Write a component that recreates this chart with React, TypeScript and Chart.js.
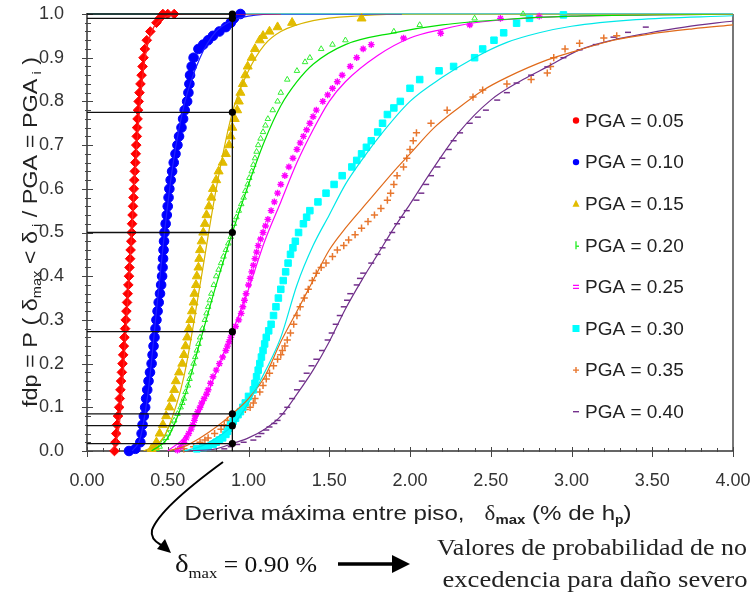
import React, { useEffect, useRef } from "react";
import { Chart, registerables } from "chart.js";

Chart.register(...registerables);

type P = [number, number];

// ---------- data ----------
const legendLabels = ["PGA = 0.05", "PGA = 0.10", "PGA = 0.15", "PGA = 0.20", "PGA = 0.25", "PGA = 0.30", "PGA = 0.35", "PGA = 0.40"];

const pga005: P[] = [
  [0.170, 0.0], [0.176, 0.02], [0.181, 0.04], [0.186, 0.06], [0.192, 0.08], [0.199, 0.10], [0.203, 0.12], [0.207, 0.14],
  [0.211, 0.16], [0.216, 0.18], [0.220, 0.20], [0.224, 0.22], [0.228, 0.24], [0.232, 0.26], [0.236, 0.28], [0.240, 0.30],
  [0.244, 0.32], [0.248, 0.34], [0.252, 0.36], [0.256, 0.38], [0.260, 0.40], [0.263, 0.42], [0.267, 0.44], [0.270, 0.46],
  [0.274, 0.48], [0.277, 0.50], [0.279, 0.52], [0.282, 0.54], [0.285, 0.56], [0.288, 0.58], [0.290, 0.60], [0.293, 0.62],
  [0.296, 0.64], [0.299, 0.66], [0.302, 0.68], [0.305, 0.70], [0.308, 0.72], [0.310, 0.74], [0.313, 0.76], [0.316, 0.78],
  [0.320, 0.80], [0.325, 0.82], [0.331, 0.84], [0.338, 0.86], [0.344, 0.88], [0.350, 0.90], [0.358, 0.92], [0.370, 0.94],
  [0.392, 0.96], [0.430, 0.98], [0.450, 0.99], [0.470, 1.0], [0.500, 1.0], [0.540, 1.0],
];
const pga010: P[] = [
  [0.26, 0.0], [0.30, 0.005], [0.330, 0.02], [0.338, 0.04], [0.344, 0.06], [0.352, 0.08], [0.360, 0.10], [0.366, 0.12],
  [0.373, 0.14], [0.381, 0.16], [0.390, 0.18], [0.400, 0.20], [0.406, 0.22], [0.412, 0.24], [0.418, 0.26], [0.424, 0.28],
  [0.430, 0.30], [0.437, 0.32], [0.444, 0.34], [0.452, 0.36], [0.459, 0.38], [0.465, 0.40], [0.468, 0.42], [0.471, 0.44],
  [0.474, 0.46], [0.477, 0.48], [0.480, 0.50], [0.487, 0.52], [0.494, 0.54], [0.500, 0.56], [0.505, 0.58], [0.510, 0.60],
  [0.518, 0.62], [0.527, 0.64], [0.537, 0.66], [0.548, 0.68], [0.560, 0.70], [0.570, 0.72], [0.585, 0.74], [0.595, 0.76],
  [0.605, 0.78], [0.620, 0.80], [0.628, 0.82], [0.634, 0.84], [0.638, 0.86], [0.648, 0.88], [0.660, 0.90], [0.690, 0.92],
  [0.720, 0.93], [0.750, 0.94], [0.780, 0.95], [0.820, 0.96], [0.860, 0.97], [0.890, 0.98], [0.910, 0.99], [0.950, 1.0],
];
const pga015: P[] = [
  [0.40, 0.005], [0.42, 0.01], [0.43, 0.02], [0.45, 0.04], [0.47, 0.06], [0.49, 0.08], [0.51, 0.10], [0.525, 0.12],
  [0.54, 0.14], [0.55, 0.16], [0.57, 0.18], [0.59, 0.20], [0.60, 0.22], [0.61, 0.24], [0.62, 0.26], [0.63, 0.28],
  [0.64, 0.30], [0.65, 0.32], [0.66, 0.34], [0.665, 0.36], [0.675, 0.38], [0.68, 0.40], [0.69, 0.42], [0.695, 0.44],
  [0.70, 0.46], [0.71, 0.48], [0.72, 0.50], [0.73, 0.52], [0.74, 0.54], [0.755, 0.56], [0.77, 0.58], [0.78, 0.60],
  [0.80, 0.62], [0.815, 0.64], [0.84, 0.66], [0.86, 0.68], [0.88, 0.70], [0.89, 0.72], [0.90, 0.74], [0.915, 0.76],
  [0.93, 0.78], [0.94, 0.80], [0.95, 0.82], [0.965, 0.84], [0.98, 0.86], [0.995, 0.88], [1.02, 0.90], [1.04, 0.92],
  [1.07, 0.94], [1.09, 0.95], [1.13, 0.96], [1.18, 0.97], [1.27, 0.98], [1.70, 0.99],
];
const pga020: P[] = [
  [0.43, 0.005], [0.45, 0.01], [0.47, 0.02], [0.49, 0.03], [0.50, 0.04], [0.51, 0.05], [0.525, 0.06], [0.54, 0.07],
  [0.56, 0.085], [0.58, 0.10], [0.59, 0.11], [0.60, 0.12], [0.61, 0.135], [0.625, 0.15], [0.635, 0.165], [0.645, 0.18],
  [0.66, 0.20], [0.67, 0.215], [0.68, 0.23], [0.69, 0.245], [0.70, 0.26], [0.715, 0.28], [0.73, 0.30], [0.74, 0.315],
  [0.75, 0.33], [0.76, 0.345], [0.77, 0.36], [0.785, 0.38], [0.80, 0.40], [0.815, 0.415], [0.83, 0.43], [0.845, 0.445],
  [0.86, 0.46], [0.875, 0.475], [0.89, 0.49], [0.90, 0.505], [0.91, 0.52], [0.925, 0.535], [0.94, 0.55], [0.955, 0.565],
  [0.97, 0.58], [0.98, 0.595], [0.995, 0.61], [1.005, 0.625], [1.02, 0.64], [1.03, 0.655], [1.04, 0.67], [1.05, 0.685],
  [1.06, 0.70], [1.075, 0.715], [1.09, 0.73], [1.105, 0.745], [1.12, 0.76], [1.15, 0.78], [1.18, 0.80], [1.20, 0.82],
  [1.24, 0.85], [1.30, 0.87], [1.35, 0.89], [1.38, 0.90], [1.45, 0.92], [1.52, 0.93], [1.60, 0.94], [1.90, 0.96],
  [2.06, 0.975], [2.40, 0.99], [2.70, 1.0],
];
const pga025: P[] = [
  [0.56, 0.002], [0.58, 0.01], [0.60, 0.02], [0.615, 0.03], [0.63, 0.04], [0.645, 0.05], [0.655, 0.06], [0.665, 0.07],
  [0.67, 0.08], [0.685, 0.09], [0.70, 0.10], [0.71, 0.11], [0.725, 0.12], [0.74, 0.13], [0.75, 0.14], [0.765, 0.155],
  [0.78, 0.17], [0.80, 0.185], [0.82, 0.20], [0.84, 0.215], [0.86, 0.23], [0.87, 0.24], [0.88, 0.25], [0.89, 0.26],
  [0.90, 0.27], [0.92, 0.285], [0.94, 0.30], [0.955, 0.315], [0.965, 0.33], [0.975, 0.345], [0.985, 0.36], [1.00, 0.38],
  [1.01, 0.395], [1.02, 0.41], [1.03, 0.425], [1.04, 0.44], [1.05, 0.455], [1.06, 0.47], [1.075, 0.485], [1.09, 0.50],
  [1.105, 0.515], [1.12, 0.53], [1.14, 0.55], [1.16, 0.57], [1.18, 0.59], [1.20, 0.61], [1.225, 0.63], [1.25, 0.65],
  [1.275, 0.67], [1.30, 0.69], [1.32, 0.705], [1.34, 0.72], [1.36, 0.735], [1.38, 0.75], [1.40, 0.765], [1.42, 0.78],
  [1.46, 0.80], [1.49, 0.815], [1.52, 0.83], [1.55, 0.845], [1.58, 0.86], [1.63, 0.88], [1.67, 0.90], [1.71, 0.92],
  [1.76, 0.93], [1.96, 0.945], [2.19, 0.956], [2.37, 0.975], [2.56, 0.99], [2.80, 0.995],
];
const pga030: P[] = [
  [0.68, 0.005], [0.72, 0.008], [0.75, 0.01], [0.78, 0.015], [0.80, 0.02], [0.82, 0.025], [0.84, 0.03], [0.86, 0.038],
  [0.87, 0.045], [0.88, 0.052], [0.89, 0.06], [0.905, 0.068], [0.92, 0.075], [0.935, 0.083], [0.95, 0.09], [0.965, 0.10],
  [0.98, 0.11], [1.00, 0.125], [1.03, 0.14], [1.04, 0.155], [1.05, 0.17], [1.06, 0.185], [1.07, 0.20], [1.08, 0.215],
  [1.09, 0.23], [1.10, 0.245], [1.11, 0.26], [1.125, 0.275], [1.14, 0.29], [1.155, 0.31], [1.17, 0.33], [1.185, 0.35],
  [1.20, 0.37], [1.215, 0.39], [1.23, 0.41], [1.245, 0.43], [1.26, 0.45], [1.275, 0.465], [1.29, 0.48], [1.31, 0.50],
  [1.34, 0.52], [1.36, 0.535], [1.38, 0.55], [1.43, 0.57], [1.48, 0.59], [1.53, 0.61], [1.58, 0.63], [1.64, 0.65],
  [1.67, 0.665], [1.70, 0.68], [1.73, 0.695], [1.76, 0.71], [1.80, 0.73], [1.83, 0.75], [1.86, 0.77], [1.90, 0.785],
  [1.94, 0.80], [2.00, 0.83], [2.06, 0.85], [2.18, 0.87], [2.27, 0.88], [2.40, 0.90], [2.45, 0.92], [2.52, 0.94],
  [2.58, 0.957], [2.66, 0.979], [2.74, 0.99], [2.95, 0.998],
];
const pga035: P[] = [
  [0.60, 0.005], [0.66, 0.01], [0.70, 0.02], [0.73, 0.025], [0.75, 0.03], [0.79, 0.04], [0.83, 0.05], [0.85, 0.06],
  [0.87, 0.07], [0.90, 0.085], [0.95, 0.09], [0.98, 0.095], [1.01, 0.10], [1.03, 0.11], [1.04, 0.12], [1.07, 0.135],
  [1.09, 0.15], [1.11, 0.165], [1.13, 0.178], [1.155, 0.195], [1.18, 0.21], [1.20, 0.22], [1.21, 0.23], [1.225, 0.24],
  [1.24, 0.254], [1.26, 0.27], [1.28, 0.29], [1.30, 0.31], [1.32, 0.33], [1.345, 0.35], [1.37, 0.37], [1.395, 0.39],
  [1.42, 0.407], [1.45, 0.42], [1.48, 0.43], [1.52, 0.445], [1.55, 0.46], [1.59, 0.47], [1.62, 0.483], [1.66, 0.495],
  [1.70, 0.51], [1.74, 0.525], [1.78, 0.54], [1.82, 0.555], [1.86, 0.574], [1.88, 0.59], [1.90, 0.61], [1.92, 0.63],
  [1.96, 0.65], [1.98, 0.67], [2.00, 0.69], [2.02, 0.71], [2.04, 0.728], [2.13, 0.75], [2.23, 0.78], [2.39, 0.81],
  [2.45, 0.826], [2.60, 0.84], [2.75, 0.85], [2.85, 0.865], [2.87, 0.88], [2.89, 0.90], [2.96, 0.92], [3.05, 0.933],
  [3.20, 0.945], [3.28, 0.95],
];
const pga040: P[] = [
  [0.85, 0.005], [0.89, 0.01], [0.93, 0.015], [0.97, 0.02], [1.03, 0.025], [1.06, 0.033], [1.08, 0.04], [1.11, 0.048],
  [1.13, 0.055], [1.16, 0.063], [1.18, 0.07], [1.21, 0.085], [1.24, 0.10], [1.27, 0.12], [1.30, 0.14], [1.33, 0.16],
  [1.36, 0.178], [1.39, 0.195], [1.42, 0.21], [1.455, 0.23], [1.49, 0.254], [1.515, 0.27], [1.54, 0.29], [1.565, 0.31],
  [1.59, 0.33], [1.61, 0.345], [1.63, 0.36], [1.67, 0.38], [1.69, 0.395], [1.71, 0.407], [1.76, 0.43], [1.80, 0.45],
  [1.83, 0.465], [1.86, 0.483], [1.89, 0.50], [1.92, 0.52], [1.95, 0.535], [1.98, 0.55], [2.04, 0.574], [2.07, 0.59],
  [2.10, 0.61], [2.13, 0.63], [2.17, 0.65], [2.20, 0.67], [2.24, 0.69], [2.27, 0.71], [2.31, 0.728], [2.37, 0.75],
  [2.42, 0.764], [2.47, 0.78], [2.54, 0.803], [2.60, 0.82], [2.66, 0.842], [2.75, 0.86], [2.85, 0.879], [2.95, 0.90],
  [3.05, 0.918], [3.15, 0.93], [3.26, 0.947], [3.35, 0.958], [3.46, 0.97],
];

// fitted distribution curves
const fit005: P[] = [
  [0.15, 0.0], [0.18, 0.02], [0.20, 0.06], [0.22, 0.15], [0.25, 0.33], [0.28, 0.52], [0.30, 0.65], [0.33, 0.80],
  [0.36, 0.90], [0.40, 0.96], [0.45, 0.985], [0.50, 0.995], [0.60, 1.0], [1.20, 1.0],
];
const fit010: P[] = [
  [0.28, 0.0], [0.33, 0.03], [0.38, 0.14], [0.43, 0.32], [0.48, 0.50], [0.53, 0.65], [0.60, 0.79], [0.70, 0.90],
  [0.80, 0.96], [0.90, 0.985], [1.00, 0.995], [1.20, 1.0], [1.95, 1.0],
];
const fit015: P[] = [
  [0.35, 0.0], [0.45, 0.02], [0.50, 0.05], [0.60, 0.17], [0.70, 0.38], [0.80, 0.60], [0.90, 0.775], [1.00, 0.87],
  [1.10, 0.93], [1.20, 0.96], [1.40, 0.985], [1.70, 0.996], [2.00, 1.0], [4.00, 1.0],
];
const fit020: P[] = [
  [0.40, 0.0], [0.50, 0.03], [0.60, 0.12], [0.70, 0.25], [0.80, 0.38], [0.90, 0.50], [1.00, 0.61], [1.10, 0.71],
  [1.20, 0.79], [1.30, 0.845], [1.40, 0.885], [1.60, 0.93], [1.90, 0.957], [2.20, 0.975], [2.60, 0.988], [3.00, 0.995],
  [3.50, 0.998], [4.00, 1.0],
];
const fit025: P[] = [
  [0.50, 0.0], [0.60, 0.03], [0.70, 0.09], [0.80, 0.18], [0.90, 0.273], [1.00, 0.37], [1.10, 0.48], [1.20, 0.57],
  [1.30, 0.66], [1.40, 0.735], [1.50, 0.80], [1.60, 0.845], [1.80, 0.905], [2.00, 0.945], [2.20, 0.965], [2.40, 0.98],
  [2.70, 0.99], [3.00, 0.995], [3.50, 0.998], [4.00, 1.0],
];
const fit030: P[] = [
  [0.60, 0.0], [0.70, 0.01], [0.80, 0.03], [0.90, 0.058], [1.00, 0.11], [1.10, 0.18], [1.20, 0.26], [1.30, 0.38],
  [1.40, 0.47], [1.50, 0.54], [1.60, 0.61], [1.70, 0.665], [1.80, 0.715], [2.00, 0.80], [2.20, 0.855], [2.40, 0.90],
  [2.60, 0.935], [2.80, 0.957], [3.00, 0.972], [3.40, 0.987], [4.00, 0.996],
];
const fit035: P[] = [
  [0.50, 0.0], [0.60, 0.01], [0.70, 0.03], [0.80, 0.055], [0.90, 0.085], [1.00, 0.12], [1.10, 0.17], [1.20, 0.25],
  [1.30, 0.32], [1.40, 0.39], [1.50, 0.46], [1.60, 0.51], [1.75, 0.575], [1.90, 0.64], [2.00, 0.68], [2.15, 0.74],
  [2.30, 0.785], [2.45, 0.825], [2.60, 0.855], [2.85, 0.895], [3.05, 0.918], [3.26, 0.94], [3.50, 0.955], [3.75, 0.966],
  [4.00, 0.975],
];
const fit040: P[] = [
  [0.60, 0.0], [0.80, 0.005], [0.90, 0.017], [1.00, 0.03], [1.10, 0.05], [1.20, 0.08], [1.30, 0.13], [1.40, 0.185],
  [1.50, 0.25], [1.60, 0.325], [1.70, 0.39], [1.80, 0.45], [1.90, 0.51], [2.00, 0.565], [2.15, 0.65], [2.30, 0.728],
  [2.50, 0.803], [2.70, 0.85], [2.85, 0.879], [3.05, 0.918], [3.25, 0.94], [3.47, 0.956], [3.70, 0.97], [4.00, 0.984],
];

// reading at delta_max = 0.90 %
const refDrift = 0.9;
const refProbs = [1.0, 0.99, 0.775, 0.5, 0.273, 0.085, 0.058, 0.017];

const seriesPts = [pga005, pga010, pga015, pga020, pga025, pga030, pga035, pga040];
const seriesFits = [fit005, fit010, fit015, fit020, fit025, fit030, fit035, fit040];

// ---------- styles ----------
const markColors = ["#ff0000", "#0000ff", "#e2bc00", "#33ee33", "#ff00ff", "#00ffff", "#e8772e", "#74308c"];
const lineColors = ["#ff2020", "#2020ff", "#d8b400", "#00e000", "#ff00ff", "#00e8e8", "#e06a1a", "#70308a"];
const markStyles: any[] = ["rectRot", "circle", "triangle", "triangle", "star", "rect", "cross", "line"];
const markRadius = [4.8, 4.8, 5.2, 3.2, 3.4, 4.6, 3.6, 3];
const markBorder = [1, 1, 1, 1, 1.4, 1, 1.5, 1.5];
const markFilled = [true, true, true, false, false, true, false, false];

const SANS = "'Liberation Sans', Arial, sans-serif";
const SERIF = "'Liberation Serif', 'Times New Roman', serif";

type Seg = { t: string; font: string; dy?: number };

function drawFit(ctx: CanvasRenderingContext2D, segs: Seg[], cx: number, baseY: number, width: number) {
  let total = 0;
  for (const s of segs) {
    ctx.font = s.font;
    total += ctx.measureText(s.t).width;
  }
  const k = width / total;
  ctx.save();
  ctx.translate(cx, baseY);
  ctx.scale(k, 1);
  let x = -total / 2;
  ctx.textBaseline = "alphabetic";
  ctx.textAlign = "left";
  for (const s of segs) {
    ctx.font = s.font;
    ctx.fillText(s.t, x, s.dy || 0);
    x += ctx.measureText(s.t).width;
  }
  ctx.restore();
}

const decorPlugin = {
  id: "decor",
  beforeDatasetsDraw(chart: any) {
    const { ctx, chartArea: a, scales } = chart;
    const xs = scales.x;
    const ys = scales.y;
    ctx.save();
    ctx.strokeStyle = "#5cc8c0";
    ctx.lineWidth = 2;
    ctx.beginPath();
    ctx.moveTo(a.left, a.top);
    ctx.lineTo(a.right, a.top);
    ctx.stroke();
    ctx.strokeStyle = "#777";
    ctx.lineWidth = 2;
    ctx.beginPath();
    ctx.moveTo(a.right, a.top);
    ctx.lineTo(a.right, a.bottom);
    ctx.stroke();
    ctx.strokeStyle = "#333";
    ctx.lineWidth = 1.5;
    ctx.beginPath();
    ctx.moveTo(a.left, a.top - 1);
    ctx.lineTo(a.left, a.bottom);
    ctx.lineTo(a.right, a.bottom);
    ctx.stroke();
    ctx.lineWidth = 1;
    ctx.strokeStyle = "#444";
    for (let i = 0; i <= 50; i++) {
      const py = Math.round(ys.getPixelForValue(i / 50)) + 0.5;
      ctx.beginPath();
      if (i % 5 === 0) {
        ctx.moveTo(a.left - 5, py);
        ctx.lineTo(a.left + 6, py);
      } else {
        ctx.moveTo(a.left - 2, py);
        ctx.lineTo(a.left + 4, py);
      }
      ctx.stroke();
    }
    for (let i = 0; i <= 40; i++) {
      const px = Math.round(xs.getPixelForValue(i / 10)) + 0.5;
      ctx.beginPath();
      if (i % 5 === 0) {
        ctx.moveTo(px, a.bottom - 4);
        ctx.lineTo(px, a.bottom + 6);
      } else {
        ctx.moveTo(px, a.bottom - 3);
        ctx.lineTo(px, a.bottom + 1);
      }
      ctx.stroke();
    }
    ctx.restore();
  },
  afterDraw(chart: any) {
    const { ctx } = chart;
    ctx.save();
    for (let i = 0; i < legendLabels.length; i++) {
      const y = 120.5 + i * 41.6;
      const mx = 576;
      const c = markColors[i];
      ctx.fillStyle = c;
      ctx.strokeStyle = c;
      ctx.lineWidth = 1.4;
      ctx.beginPath();
      if (i === 0 || i === 1) {
        ctx.arc(mx, y, 3.2, 0, Math.PI * 2);
        ctx.fill();
      } else if (i === 2) {
        ctx.moveTo(mx, y - 4);
        ctx.lineTo(mx + 3.5, y + 3);
        ctx.lineTo(mx - 3.5, y + 3);
        ctx.closePath();
        ctx.fill();
      } else if (i === 3) {
        ctx.moveTo(mx, y - 4);
        ctx.lineTo(mx, y + 4);
        ctx.moveTo(mx, y + 1);
        ctx.lineTo(mx + 3, y + 1);
        ctx.stroke();
      } else if (i === 4) {
        ctx.moveTo(mx - 3, y - 1.5);
        ctx.lineTo(mx + 3, y - 1.5);
        ctx.moveTo(mx - 3, y + 1.5);
        ctx.lineTo(mx + 3, y + 1.5);
        ctx.stroke();
      } else if (i === 5) {
        ctx.fillRect(mx - 3.5, y - 3.5, 7, 7);
      } else if (i === 6) {
        ctx.moveTo(mx - 3, y);
        ctx.lineTo(mx + 3, y);
        ctx.moveTo(mx, y - 3);
        ctx.lineTo(mx, y + 3);
        ctx.stroke();
      } else {
        ctx.moveTo(mx - 3, y);
        ctx.lineTo(mx + 3, y);
        ctx.stroke();
      }
      ctx.fillStyle = "#222";
      ctx.font = "19px " + SANS;
      ctx.textBaseline = "middle";
      ctx.textAlign = "left";
      ctx.fillText(legendLabels[i], 585, y + 1);
    }

    ctx.fillStyle = "#222";
    ctx.save();
    ctx.translate(37, 232);
    ctx.rotate(-Math.PI / 2);
    drawFit(
      ctx,
      [
        { t: "fdp = P ( \u03b4", font: "21px " + SANS },
        { t: "max", font: "13px " + SANS, dy: 4 },
        { t: " < \u03b4", font: "21px " + SANS },
        { t: " i", font: "13px " + SANS, dy: 4 },
        { t: " / PGA = PGA", font: "21px " + SANS },
        { t: " i", font: "13px " + SANS, dy: 4 },
        { t: " )", font: "21px " + SANS },
      ],
      0,
      0,
      350
    );
    ctx.restore();

    drawFit(
      ctx,
      [
        { t: "Deriva m\u00e1xima entre piso,   ", font: "21px " + SANS },
        { t: "\u03b4", font: "20px " + SERIF },
        { t: "max", font: "bold 13px " + SANS, dy: 4 },
        { t: " (% de h", font: "21px " + SANS },
        { t: "p", font: "bold 12px " + SANS, dy: 4 },
        { t: ")", font: "21px " + SANS },
      ],
      408,
      520,
      447
    );

    ctx.fillStyle = "#111";
    drawFit(
      ctx,
      [
        { t: "\u03b4", font: "26px " + SERIF },
        { t: "max", font: "15px " + SERIF, dy: 6 },
        { t: " = 0.90 %", font: "23px " + SERIF },
      ],
      246,
      572,
      142
    );
    ctx.fillStyle = "#222";
    drawFit(ctx, [{ t: "Valores de probabilidad de no", font: "23px " + SERIF }], 592, 555, 310);
    drawFit(ctx, [{ t: "excedencia para da\u00f1o severo", font: "23px " + SERIF }], 595, 587, 305);

    ctx.strokeStyle = "#000";
    ctx.fillStyle = "#000";
    ctx.lineWidth = 3.5;
    ctx.beginPath();
    ctx.moveTo(338, 564);
    ctx.lineTo(394, 564);
    ctx.stroke();
    ctx.beginPath();
    ctx.moveTo(392, 555);
    ctx.lineTo(410, 564);
    ctx.lineTo(392, 573);
    ctx.closePath();
    ctx.fill();

    ctx.lineWidth = 2;
    ctx.beginPath();
    ctx.moveTo(223, 462);
    ctx.quadraticCurveTo(160, 508, 152, 530);
    ctx.quadraticCurveTo(150, 539, 161, 545);
    ctx.stroke();
    ctx.beginPath();
    ctx.moveTo(171, 553);
    ctx.lineTo(157, 549);
    ctx.lineTo(165, 539);
    ctx.closePath();
    ctx.fill();
    ctx.restore();
  },
};

const zeroPad = (s: any) => {
  s.paddingTop = 0;
  s.paddingBottom = 0;
  s.paddingLeft = 0;
  s.paddingRight = 0;
};

export default function App() {
  const ref = useRef<HTMLCanvasElement>(null);
  useEffect(() => {
    document.body.style.margin = "0";
    const canvas = ref.current!;
    const toXY = (a: P[]) => a.map(([x, y]) => ({ x, y }));
    const datasets: any[] = [];
    refProbs.forEach((p) => {
      datasets.push({
        data: [{ x: 0, y: p }, { x: refDrift, y: p }],
        showLine: true,
        borderColor: "#111",
        borderWidth: 1.3,
        pointRadius: [0, 3.6],
        pointBackgroundColor: "#000",
        pointBorderColor: "#000",
        pointBorderWidth: 0,
        order: -2,
        clip: false,
      });
    });
    datasets.push({
      data: [{ x: refDrift, y: 0 }, { x: refDrift, y: 1 }],
      showLine: true,
      borderColor: "#111",
      borderWidth: 1.3,
      pointRadius: 0,
      order: -2,
      clip: false,
    });
    seriesPts.forEach((pts, i) => {
      datasets.push({
        data: toXY(seriesFits[i]),
        showLine: true,
        borderColor: lineColors[i],
        borderWidth: 1.2,
        pointRadius: 0,
        cubicInterpolationMode: "monotone",
        order: -1,
      });
      datasets.push({
        label: legendLabels[i],
        data: toXY(pts),
        showLine: false,
        pointStyle: markStyles[i],
        pointRadius: markRadius[i],
        pointBorderWidth: markBorder[i],
        pointBorderColor: markColors[i],
        pointBackgroundColor: markFilled[i] ? markColors[i] : "rgba(0,0,0,0)",
        borderColor: markColors[i],
        backgroundColor: markColors[i],
        order: 0,
        clip: false,
      });
    });

    const chart = new Chart(canvas, {
      type: "scatter",
      data: { datasets },
      plugins: [decorPlugin],
      options: {
        responsive: false,
        animation: false,
        devicePixelRatio: 1,
        events: [],
        layout: { autoPadding: false, padding: { left: 0, top: 14, right: 20, bottom: 0 } },
        plugins: { legend: { display: false }, tooltip: { enabled: false } },
        scales: {
          x: {
            type: "linear",
            min: 0,
            max: 4,
            grid: { display: false },
            border: { display: false },
            ticks: {
              stepSize: 0.5,
              padding: 11,
              color: "#333",
              font: { family: SANS, size: 18 },
              callback: (v: any) => Number(v).toFixed(2),
            },
            afterFit: (s: any) => {
              s.height = 143;
              zeroPad(s);
            },
          },
          y: {
            type: "linear",
            min: 0,
            max: 1,
            grid: { display: false },
            border: { display: false },
            ticks: {
              stepSize: 0.1,
              padding: 15,
              color: "#333",
              font: { family: SANS, size: 18 },
              callback: (v: any) => Number(v).toFixed(1),
            },
            afterFit: (s: any) => {
              s.width = 87;
              zeroPad(s);
            },
          },
        },
      } as any,
    });
    return () => chart.destroy();
  }, []);
  return (
    <div style={{ width: 753, height: 594, background: "#fff" }}>
      <canvas ref={ref} width={753} height={594} style={{ display: "block" }} />
    </div>
  );
}
